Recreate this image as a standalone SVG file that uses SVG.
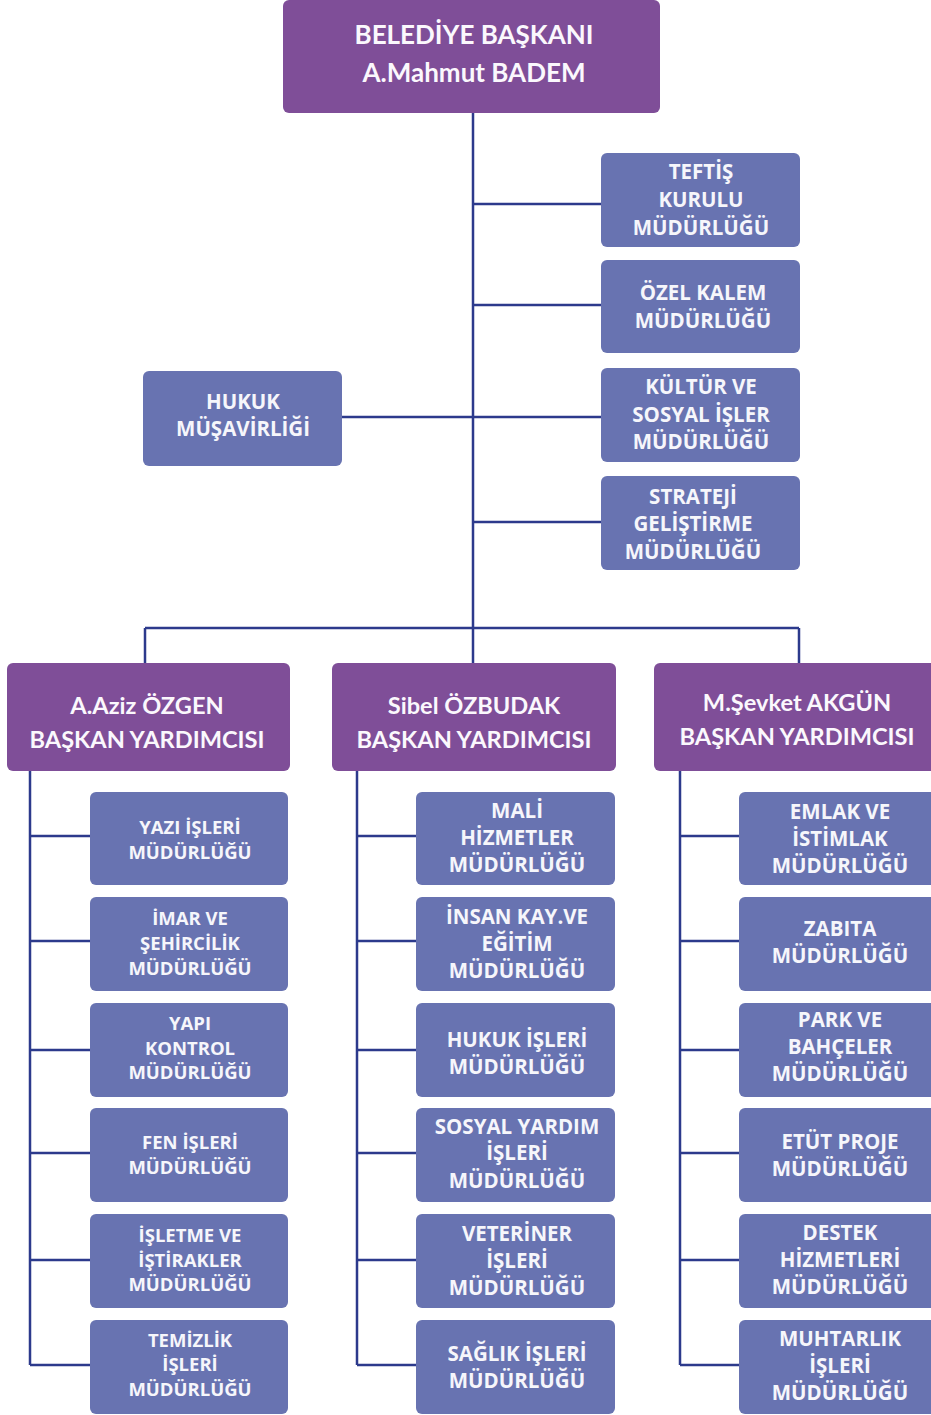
<svg xmlns="http://www.w3.org/2000/svg" width="931" height="1415" viewBox="0 0 931 1415">
<style>
.p{fill:#7f4e98}
.b{fill:#6873b1}
.ln{stroke:#2c3a8c;stroke-width:2.5;fill:none}
.t{font-family:Lato,"Liberation Sans",sans-serif;font-weight:bold;fill:#fbf8fd;text-anchor:middle}
.s{font-family:"Open Sans","Liberation Sans",sans-serif;font-weight:bold;fill:#f6f6fb;text-anchor:middle}
.m{font-size:20.5px}
.k{font-size:18.5px}
.v{font-size:23.6px}
</style>
<rect width="931" height="1415" fill="#fff"/>
<g id="connectors">
<path class="ln" d="M473 113V628M473 204H601M473 305H601M342 417H601M473 522H601M145 628H799M145 628V663M473 628V663M799 628V663"/>
<path class="ln" d="M30 771V1365M30 836H90M30 941H90M30 1050H90M30 1153H90M30 1260H90M30 1365H90"/>
<path class="ln" d="M357 771V1365M357 836H416M357 941H416M357 1050H416M357 1153H416M357 1260H416M357 1365H416"/>
<path class="ln" d="M680 771V1365M680 836H739M680 941H739M680 1050H739M680 1153H739M680 1260H739M680 1365H739"/>
</g>
<g id="baskan"><rect class="p" x="283" y="0" width="377" height="113" rx="6"/>
<text class="t" x="474" y="44" font-size="26">BELEDİYE BAŞKANI</text>
<text class="t" x="474" y="82" font-size="26">A.Mahmut BADEM</text></g>
<g id="teftis"><rect class="b" x="601" y="153" width="199" height="94" rx="6"/>
<text class="s m" x="701" y="179">TEFTİŞ</text><text class="s m" x="701" y="207">KURULU</text><text class="s m" x="701" y="235">MÜDÜRLÜĞÜ</text></g>
<g id="ozelkalem"><rect class="b" x="601" y="260" width="199" height="93" rx="6"/>
<text class="s m" x="703" y="300">ÖZEL KALEM</text><text class="s m" x="703" y="328">MÜDÜRLÜĞÜ</text></g>
<g id="kultur"><rect class="b" x="601" y="368" width="199" height="94" rx="6"/>
<text class="s m" x="701" y="394">KÜLTÜR VE</text><text class="s m" x="701" y="422">SOSYAL İŞLER</text><text class="s m" x="701" y="449">MÜDÜRLÜĞÜ</text></g>
<g id="strateji"><rect class="b" x="601" y="476" width="199" height="94" rx="6"/>
<text class="s m" x="693" y="504">STRATEJİ</text><text class="s m" x="693" y="531">GELİŞTİRME</text><text class="s m" x="693" y="559">MÜDÜRLÜĞÜ</text></g>
<g id="hukukmusavirligi"><rect class="b" x="143" y="371" width="199" height="95" rx="6"/>
<text class="s m" x="243" y="409">HUKUK</text><text class="s m" x="243" y="436">MÜŞAVİRLİĞİ</text></g>
<g id="vp1"><rect class="p" x="7" y="663" width="283" height="108" rx="6"/>
<text class="t v" x="147" y="714">A.Aziz ÖZGEN</text><text class="t v" x="147" y="748">BAŞKAN YARDIMCISI</text></g>
<g id="vp2"><rect class="p" x="332" y="663" width="284" height="108" rx="6"/>
<text class="t v" x="474" y="714">Sibel ÖZBUDAK</text><text class="t v" x="474" y="748">BAŞKAN YARDIMCISI</text></g>
<g id="vp3"><rect class="p" x="654" y="663" width="284" height="108" rx="6"/>
<text class="t v" x="797" y="711">M.Şevket AKGÜN</text><text class="t v" x="797" y="745">BAŞKAN YARDIMCISI</text></g>
<g id="yazi"><rect class="b" x="90" y="792" width="198" height="93" rx="6"/>
<text class="s k" x="190" y="834">YAZI İŞLERİ</text><text class="s k" x="190" y="859">MÜDÜRLÜĞÜ</text></g>
<g id="imar"><rect class="b" x="90" y="897" width="198" height="94" rx="6"/>
<text class="s k" x="190" y="925">İMAR VE</text><text class="s k" x="190" y="950">ŞEHİRCİLİK</text><text class="s k" x="190" y="975">MÜDÜRLÜĞÜ</text></g>
<g id="yapi"><rect class="b" x="90" y="1003" width="198" height="94" rx="6"/>
<text class="s k" x="190" y="1030">YAPI</text><text class="s k" x="190" y="1055">KONTROL</text><text class="s k" x="190" y="1079">MÜDÜRLÜĞÜ</text></g>
<g id="fen"><rect class="b" x="90" y="1108" width="198" height="94" rx="6"/>
<text class="s k" x="190" y="1149">FEN İŞLERİ</text><text class="s k" x="190" y="1174">MÜDÜRLÜĞÜ</text></g>
<g id="isletme"><rect class="b" x="90" y="1214" width="198" height="94" rx="6"/>
<text class="s k" x="190" y="1242">İŞLETME VE</text><text class="s k" x="190" y="1267">İŞTİRAKLER</text><text class="s k" x="190" y="1291">MÜDÜRLÜĞÜ</text></g>
<g id="temizlik"><rect class="b" x="90" y="1320" width="198" height="94" rx="6"/>
<text class="s k" x="190" y="1347">TEMİZLİK</text><text class="s k" x="190" y="1371">İŞLERİ</text><text class="s k" x="190" y="1396">MÜDÜRLÜĞÜ</text></g>
<g id="mali"><rect class="b" x="416" y="792" width="199" height="93" rx="6"/>
<text class="s m" x="517" y="818">MALİ</text><text class="s m" x="517" y="845">HİZMETLER</text><text class="s m" x="517" y="872">MÜDÜRLÜĞÜ</text></g>
<g id="insan"><rect class="b" x="416" y="897" width="199" height="94" rx="6"/>
<text class="s m" x="517" y="924">İNSAN KAY.VE</text><text class="s m" x="517" y="951">EĞİTİM</text><text class="s m" x="517" y="978">MÜDÜRLÜĞÜ</text></g>
<g id="hukukisleri"><rect class="b" x="416" y="1003" width="199" height="94" rx="6"/>
<text class="s m" x="517" y="1047">HUKUK İŞLERİ</text><text class="s m" x="517" y="1074">MÜDÜRLÜĞÜ</text></g>
<g id="sosyalyardim"><rect class="b" x="416" y="1108" width="199" height="94" rx="6"/>
<text class="s m" x="517" y="1134">SOSYAL YARDIM</text><text class="s m" x="517" y="1160">İŞLERİ</text><text class="s m" x="517" y="1188">MÜDÜRLÜĞÜ</text></g>
<g id="veteriner"><rect class="b" x="416" y="1214" width="199" height="94" rx="6"/>
<text class="s m" x="517" y="1241">VETERİNER</text><text class="s m" x="517" y="1268">İŞLERİ</text><text class="s m" x="517" y="1295">MÜDÜRLÜĞÜ</text></g>
<g id="saglik"><rect class="b" x="416" y="1320" width="199" height="94" rx="6"/>
<text class="s m" x="517" y="1361">SAĞLIK İŞLERİ</text><text class="s m" x="517" y="1388">MÜDÜRLÜĞÜ</text></g>
<g id="emlak"><rect class="b" x="739" y="792" width="199" height="93" rx="6"/>
<text class="s m" x="840" y="819">EMLAK VE</text><text class="s m" x="840" y="846">İSTİMLAK</text><text class="s m" x="840" y="873">MÜDÜRLÜĞÜ</text></g>
<g id="zabita"><rect class="b" x="739" y="897" width="199" height="94" rx="6"/>
<text class="s m" x="840" y="936">ZABITA</text><text class="s m" x="840" y="963">MÜDÜRLÜĞÜ</text></g>
<g id="park"><rect class="b" x="739" y="1003" width="199" height="94" rx="6"/>
<text class="s m" x="840" y="1027">PARK VE</text><text class="s m" x="840" y="1054">BAHÇELER</text><text class="s m" x="840" y="1081">MÜDÜRLÜĞÜ</text></g>
<g id="etut"><rect class="b" x="739" y="1108" width="199" height="94" rx="6"/>
<text class="s m" x="840" y="1149">ETÜT PROJE</text><text class="s m" x="840" y="1176">MÜDÜRLÜĞÜ</text></g>
<g id="destek"><rect class="b" x="739" y="1214" width="199" height="94" rx="6"/>
<text class="s m" x="840" y="1240">DESTEK</text><text class="s m" x="840" y="1267">HİZMETLERİ</text><text class="s m" x="840" y="1294">MÜDÜRLÜĞÜ</text></g>
<g id="muhtarlik"><rect class="b" x="739" y="1320" width="199" height="94" rx="6"/>
<text class="s m" x="840" y="1346">MUHTARLIK</text><text class="s m" x="840" y="1373">İŞLERİ</text><text class="s m" x="840" y="1400">MÜDÜRLÜĞÜ</text></g>
</svg>
